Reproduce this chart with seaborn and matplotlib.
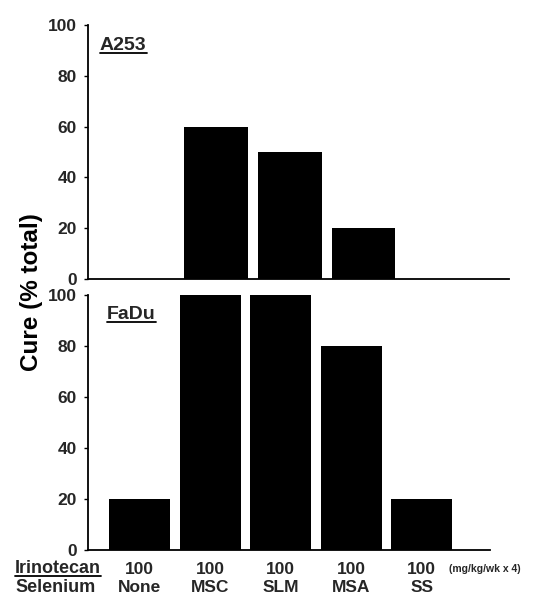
import matplotlib
matplotlib.use("Agg")
import matplotlib.pyplot as plt
from matplotlib.lines import Line2D
import seaborn as sns
import pandas as pd

# Treatment groups (selenium compound given with irinotecan 100 mg/kg/wk x 4)
selenium = ["None", "MSC", "SLM", "MSA", "SS"]
irinotecan = ["100", "100", "100", "100", "100"]
cure_a253 = [0, 60, 50, 20, 0]
cure_fadu = [20, 100, 100, 80, 20]
yticks = [0, 20, 40, 60, 80, 100]

sns.set_theme(style="white")
plt.rcParams["font.family"] = ["Liberation Sans", "DejaVu Sans"]
plt.rcParams["font.weight"] = "bold"

W, H = 547, 596
fig = plt.figure(figsize=(W / 100, H / 100), dpi=100)


def px_axes(left, top, right, bottom):
    return fig.add_axes([left / W, 1 - bottom / H, (right - left) / W, (bottom - top) / H])


ax_top = px_axes(88, 25, 509, 279)
ax_bot = px_axes(88, 295, 490, 550)

df_top = pd.DataFrame({"group": selenium, "cure": cure_a253})
df_bot = pd.DataFrame({"group": selenium, "cure": cure_fadu})

for ax, df in ((ax_top, df_top), (ax_bot, df_bot)):
    sns.barplot(data=df, x="group", y="cure", order=selenium, color="black",
                saturation=1, width=0.865, ax=ax, edgecolor="black", linewidth=0)
    ax.set_xlim(-0.73, 4.97)
    ax.set_ylim(0, 100)
    ax.set_yticks(yticks)
    ax.set_yticklabels([str(t) for t in yticks], fontsize=12.5, fontweight="bold")
    ax.tick_params(axis="y", direction="out", length=3, width=1, color="black", pad=5, left=True)
    ax.set_xlabel("")
    ax.set_ylabel("")
    for s in ("top", "right"):
        ax.spines[s].set_visible(False)
    for s in ("left", "bottom"):
        ax.spines[s].set_color("black")
        ax.spines[s].set_linewidth(1.3)

ax_top.set_xticks([])
ax_bot.set_xticks(range(len(selenium)))
ax_bot.set_xticklabels([f"{d}\n{s}" for d, s in zip(irinotecan, selenium)],
                       fontsize=12.5, fontweight="bold", linespacing=1.25)
ax_bot.tick_params(axis="x", length=0, pad=9)

fig.text(32 / W, 1 - 292 / H, "Cure (% total)", rotation=90, ha="center", va="center",
         fontsize=17.5, fontweight="bold", color="black")

# (text, x px, baseline px, size, underlined)
labels = [
    ("A253", 100, 50, 14, True),
    ("FaDu", 107, 319, 14, True),
    ("Irinotecan", 15, 573, 13, True),
    ("Selenium", 15, 592.5, 13, False),
]
for txt, xp, yp, size, under in labels:
    t = fig.text(xp / W, 1 - yp / H, txt, fontsize=size, fontweight="bold", va="baseline")
    if under:
        fig.canvas.draw()
        bb = t.get_window_extent(fig.canvas.get_renderer())
        uy = 1 - (yp + 2.5) / H
        fig.add_artist(Line2D([bb.x0 / W, bb.x1 / W], [uy, uy], color="black",
                              linewidth=1.3, transform=fig.transFigure))

fig.text(449 / W, 1 - 572 / H, "(mg/kg/wk x 4)", fontsize=7.5, va="baseline")

fig.savefig("out.png", dpi=100)
